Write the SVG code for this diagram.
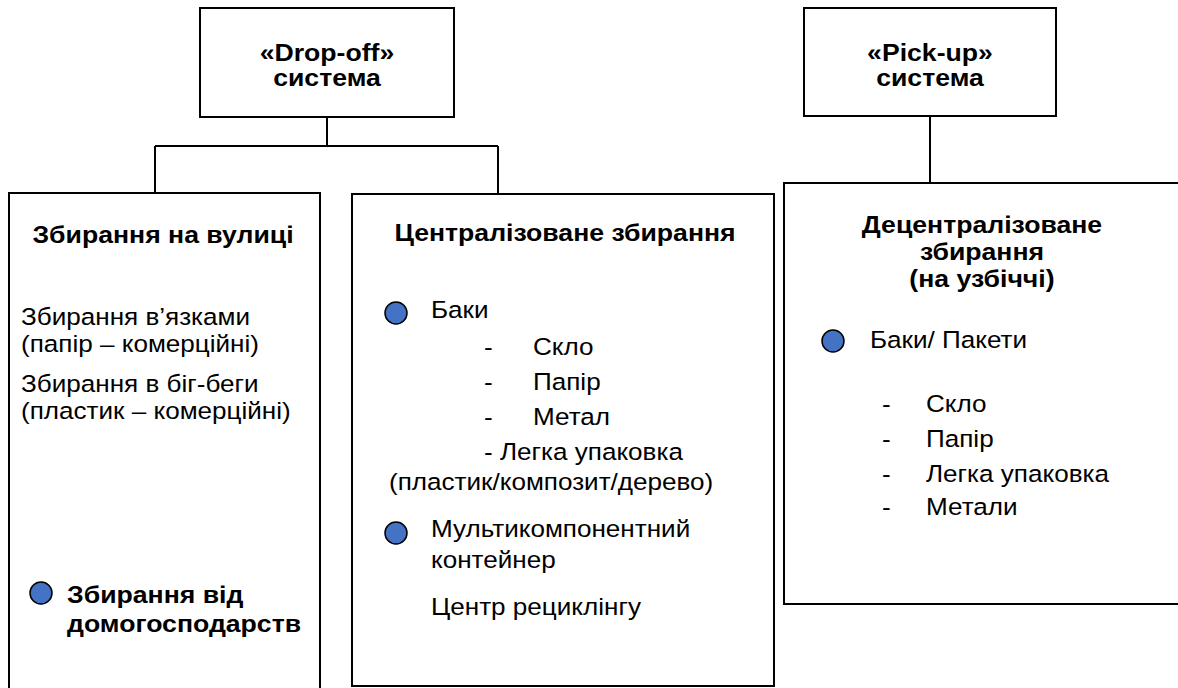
<svg xmlns="http://www.w3.org/2000/svg" width="1178" height="688" viewBox="0 0 1178 688">
<style>
  .box{fill:#fff;stroke:#000;stroke-width:2}
  .con{fill:none;stroke:#000;stroke-width:2}
  .b{font-family:"Liberation Sans",Arial,sans-serif;font-weight:bold;font-size:24px;fill:#000}
  .t{font-family:"Liberation Sans",Arial,sans-serif;font-size:23.5px;fill:#000}
  .mid{text-anchor:middle}
  .dot{fill:#4472C4;stroke:#000;stroke-width:1.5}
</style>
<rect width="1178" height="688" fill="#fff"/>
<g id="connectors">
  <path class="con" d="M327 117 V146 M155 146 H498 M155 146 V193 M498 146 V194 M930 116 V183"/>
</g>
<g id="dropoff">
  <rect class="box" x="200" y="8" width="254" height="109"/>
  <g transform="scale(1.11 1)">
    <text class="b mid" x="294.59" y="61">«Drop-off»</text>
    <text class="b mid" x="294.59" y="86">система</text>
  </g>
</g>
<g id="pickup">
  <rect class="box" x="804" y="8" width="252" height="108"/>
  <g transform="scale(1.11 1)">
    <text class="b mid" x="837.84" y="61">«Pick-up»</text>
    <text class="b mid" x="837.84" y="86">система</text>
  </g>
</g>
<g id="street">
  <rect class="box" x="9" y="193" width="311" height="520"/>
  <circle class="dot" cx="41" cy="593" r="11"/>
  <g transform="scale(1.11 1)">
    <text class="b mid" x="146.85" y="243">Збирання на вулиці</text>
    <text class="t" x="18.92" y="325">Збирання в’язками</text>
    <text class="t" x="18.92" y="352">(папір – комерційні)</text>
    <text class="t" x="18.92" y="392">Збирання в біг-беги</text>
    <text class="t" x="18.92" y="419">(пластик – комерційні)</text>
    <text class="b" x="60.36" y="603">Збирання від</text>
    <text class="b" x="60.36" y="632">домогосподарств</text>
  </g>
</g>
<g id="central">
  <rect class="box" x="352" y="194" width="422" height="492"/>
  <circle class="dot" cx="396" cy="313" r="11"/>
  <circle class="dot" cx="396" cy="533" r="11"/>
  <g transform="scale(1.11 1)">
    <text class="b mid" x="509.01" y="241">Централізоване збирання</text>
    <text class="t" x="388.29" y="318">Баки</text>
    <text class="t" x="436.04" y="355">-</text><text class="t" x="480.18" y="355">Скло</text>
    <text class="t" x="436.04" y="390">-</text><text class="t" x="480.18" y="390">Папір</text>
    <text class="t" x="436.04" y="425">-</text><text class="t" x="480.18" y="425">Метал</text>
    <text class="t" x="436.04" y="460">- Легка упаковка</text>
    <text class="t" x="350.45" y="490">(пластик/композит/дерево)</text>
    <text class="t" x="388.29" y="537">Мультикомпонентний</text>
    <text class="t" x="388.29" y="568">контейнер</text>
    <text class="t" x="388.29" y="615">Центр рециклінгу</text>
  </g>
</g>
<g id="decentral">
  <rect class="box" x="784" y="183" width="420" height="421"/>
  <circle class="dot" cx="833" cy="341" r="11"/>
  <g transform="scale(1.11 1)">
    <text class="b mid" x="884.68" y="233">Децентралізоване</text>
    <text class="b mid" x="884.68" y="260">збирання</text>
    <text class="b mid" x="884.68" y="287">(на узбіччі)</text>
    <text class="t" x="783.78" y="348">Баки/ Пакети</text>
    <text class="t" x="794.59" y="412">-</text><text class="t" x="834.23" y="412">Скло</text>
    <text class="t" x="794.59" y="447">-</text><text class="t" x="834.23" y="447">Папір</text>
    <text class="t" x="794.59" y="482">-</text><text class="t" x="834.23" y="482">Легка упаковка</text>
    <text class="t" x="794.59" y="515">-</text><text class="t" x="834.23" y="515">Метали</text>
  </g>
</g>
</svg>
